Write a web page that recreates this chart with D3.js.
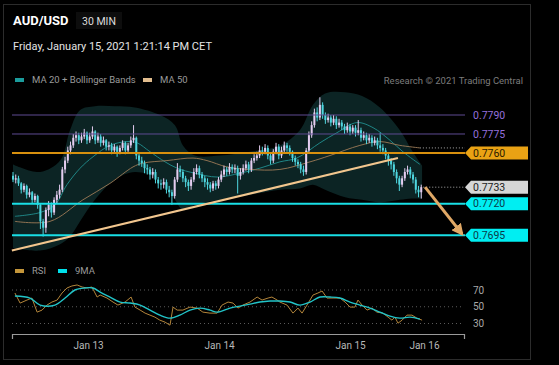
<!DOCTYPE html>
<html><head><meta charset="utf-8">
<script src="https://cdn.jsdelivr.net/npm/d3@7"></script>
<style>
  body { margin: 0; background: #000; }
  svg { display: block; font-family: Roboto, "Liberation Sans", Arial, sans-serif; }
</style>
</head>
<body>
<svg id="chart" width="559" height="365"></svg>
<script>
"use strict";
// 30 min candles, AUD/USD
const opens = [
  .7742,.7739,.7740,.7736,.7731,.7734,.7727,.7729,.7723,.7726,
  .7719,.7706,.7701,.7715,.7719,.7713,.7723,.7727,.7731,.7747,
  .7754,.7762,.7766,.7772,.7774,.7770,.7773,.7776,.7770,.7773,
  .7777,.7770,.7773,.7768,.7770,.7765,.7766,.7762,.7765,.7761,
  .7764,.7768,.7762,.7766,.7770,.7772,.7758,.7754,.7752,.7748,
  .7747,.7743,.7745,.7739,.7736,.7735,.7737,.7731,.7729,.7726,
  .7739,.7747,.7745,.7740,.7737,.7734,.7739,.7745,.7748,.7743,
  .7740,.7737,.7735,.7732,.7736,.7734,.7739,.7743,.7747,.7745,
  .7749,.7747,.7748,.7742,.7745,.7748,.7751,.7747,.7754,.7756,
  .7758,.7762,.7761,.7764,.7758,.7754,.7761,.7765,.7758,.7762,
  .7766,.7764,.7761,.7756,.7753,.7751,.7747,.7745,.7762,.7774,
  .7782,.7792,.7788,.7798,.7790,.7786,.7788,.7784,.7787,.7782,
  .7784,.7781,.7778,.7781,.7777,.7780,.7776,.7778,.7772,.7774,
  .7770,.7772,.7768,.7770,.7766,.7764,.7762,.7758,.7754,.7751,
  .7745,.7740,.7735,.7740,.7745,.7747,.7743,.7739,.7731,.7729];
const highs = [
  .7745,.7743,.7742,.7737,.7736,.7735,.7732,.7730,.7728,.7727,
  .7720,.7708,.7717,.7722,.7721,.7725,.7730,.7735,.7749,.7757,
  .7765,.7769,.7775,.7777,.7776,.7776,.7779,.7777,.7776,.7781,
  .7778,.7776,.7775,.7773,.7771,.7769,.7768,.7767,.7766,.7766,
  .7770,.7769,.7768,.7773,.7782,.7773,.7760,.7757,.7754,.7751,
  .7749,.7748,.7747,.7741,.7739,.7740,.7739,.7734,.7731,.7741,
  .7752,.7750,.7747,.7742,.7739,.7741,.7748,.7751,.7750,.7745,
  .7742,.7740,.7737,.7738,.7738,.7741,.7746,.7750,.7749,.7752,
  .7751,.7751,.7750,.7748,.7751,.7754,.7753,.7756,.7759,.7761,
  .7766,.7765,.7767,.7766,.7760,.7763,.7768,.7767,.7765,.7769,
  .7768,.7766,.7762,.7758,.7755,.7753,.7750,.7764,.7777,.7785,
  .7795,.7796,.7804,.7800,.7792,.7791,.7790,.7790,.7789,.7787,
  .7786,.7783,.7784,.7783,.7782,.7782,.7786,.7780,.7777,.7776,
  .7775,.7774,.7773,.7772,.7776,.7767,.7764,.7760,.7756,.7753,
  .7747,.7742,.7742,.7748,.7750,.7749,.7745,.7741,.7734,.7735];
const lows = [
  .7737,.7736,.7734,.7728,.7729,.7724,.7725,.7720,.7721,.7716,
  .7700,.7694,.7697,.7710,.7709,.7711,.7720,.7724,.7729,.7744,
  .7752,.7759,.7764,.7769,.7767,.7768,.7771,.7767,.7768,.7771,
  .7767,.7768,.7765,.7766,.7762,.7762,.7759,.7760,.7757,.7759,
  .7762,.7759,.7760,.7764,.7768,.7755,.7750,.7749,.7744,.7743,
  .7739,.7740,.7736,.7732,.7731,.7732,.7728,.7725,.7719,.7724,
  .7737,.7741,.7737,.7733,.7730,.7731,.7737,.7743,.7740,.7737,
  .7733,.7731,.7729,.7730,.7731,.7732,.7737,.7741,.7742,.7743,
  .7744,.7744,.7728,.7739,.7743,.7746,.7744,.7745,.7752,.7754,
  .7756,.7758,.7759,.7755,.7751,.7752,.7759,.7755,.7756,.7760,
  .7761,.7758,.7753,.7750,.7748,.7744,.7742,.7743,.7760,.7772,
  .7780,.7785,.7786,.7787,.7783,.7784,.7781,.7782,.7779,.7780,
  .7778,.7775,.7776,.7774,.7775,.7773,.7774,.7769,.7770,.7767,
  .7768,.7765,.7766,.7763,.7761,.7759,.7755,.7750,.7747,.7742,
  .7736,.7730,.7733,.7738,.7743,.7740,.7736,.7728,.7725,.7724];
const closes = [
  .7739,.7740,.7736,.7731,.7734,.7727,.7729,.7723,.7726,.7719,
  .7706,.7701,.7715,.7719,.7713,.7723,.7727,.7731,.7747,.7754,
  .7762,.7766,.7772,.7774,.7770,.7773,.7776,.7770,.7773,.7777,
  .7770,.7773,.7768,.7770,.7765,.7766,.7762,.7765,.7761,.7764,
  .7768,.7762,.7766,.7770,.7772,.7758,.7754,.7752,.7748,.7747,
  .7743,.7745,.7739,.7736,.7735,.7737,.7731,.7729,.7726,.7739,
  .7747,.7745,.7740,.7737,.7734,.7739,.7745,.7748,.7743,.7740,
  .7737,.7735,.7732,.7736,.7734,.7739,.7743,.7747,.7745,.7749,
  .7747,.7748,.7742,.7745,.7748,.7751,.7747,.7754,.7756,.7758,
  .7762,.7761,.7764,.7758,.7754,.7761,.7765,.7758,.7762,.7766,
  .7764,.7761,.7756,.7753,.7751,.7747,.7745,.7762,.7774,.7782,
  .7792,.7788,.7798,.7790,.7786,.7788,.7784,.7787,.7782,.7784,
  .7781,.7778,.7781,.7777,.7780,.7776,.7778,.7772,.7774,.7770,
  .7772,.7768,.7770,.7766,.7764,.7762,.7758,.7754,.7751,.7745,
  .7740,.7735,.7740,.7745,.7747,.7743,.7739,.7731,.7729,.7733];

// indicators as [candle index, value]
const ma20 = [[0.7,.7710],[9.9,.7713],[15.3,.7719],[19.7,.7735],[24.5,.7748],[29.2,.7757],
  [35.4,.7766],[41.6,.7769],[45.3,.7768],[50,.7761],[55.5,.7753],[59.9,.7748],[66.4,.7744],
  [74.5,.7741],[82.8,.7744],[90.1,.7748],[97.4,.7753],[103.6,.7756],[112,.7768],[118.2,.7776],
  [125.5,.7784],[131.4,.7780],[137.6,.7770],[142.3,.7761],[148.5,.7751]];
const ma50 = [[0.7,.7706],[13.5,.7706],[25.5,.7723],[35.4,.7736],[43.8,.7749],[47.4,.7752],
  [56.2,.7754],[65.7,.7756],[70.8,.7754],[78.1,.7749],[86.5,.7747],[97.4,.7747],[108.4,.7753],
  [115.7,.7758],[126.6,.7766],[133.9,.7769],[141.2,.7766],[148.5,.7764]];
const bbUpper = [[0,.7751],[9.9,.7745],[17.2,.7754],[20.8,.7778],[24.5,.7794],[29.9,.7797],
  [37.2,.7797],[44.5,.7796],[53.6,.7790],[59.1,.7782],[62,.7766],[66.4,.7758],[75.5,.7758],
  [86.5,.7761],[97.4,.7766],[104.7,.7778],[109.5,.7798],[113.9,.7807],[121.2,.7808],
  [127.4,.7805],[133.9,.7796],[141.2,.7778],[145.6,.7762],[149.3,.7750]];
const bbLower = [[0,.7685],[9.9,.7683],[17.2,.7688],[22.6,.7694],[28.1,.7706],[33.6,.7723],
  [39,.7739],[44.5,.7745],[50,.7739],[55.5,.7723],[60.9,.7715],[68.2,.7719],[75.5,.7723],
  [82.8,.7727],[90.1,.7731],[97.4,.7732],[104.7,.7735],[110.2,.7731],[115.7,.7725],
  [123,.7723],[130.3,.7721],[137.6,.7723],[144.9,.7724],[149.3,.7724]];

const rsi = [[0.7,66.4],[2.6,54.4],[5.1,58],[6.9,60.4],[8.8,43.6],[10.6,46],[12.4,52],[14.2,55.6],
  [16.1,58],[17.9,66.4],[19.7,72.4],[21.5,74.8],[23.4,76],[25.2,73.6],[27,72.4],[28.8,73.6],
  [30.7,61.6],[31.8,64],[34.3,60.4],[36.5,55.6],[38.3,52],[40.9,55.6],[43.1,61.6],[44.5,49.6],
  [46.4,46],[48.2,42.4],[50,40],[51.8,37.6],[53.6,34],[55.5,31.6],[57.3,28],[58.4,49.6],
  [59.9,46],[62,46],[64.6,49.6],[67.2,48.4],[69.3,43.6],[71.9,42.4],[74.5,42.4],[76.3,52],
  [78.5,55.6],[80.3,54.4],[82.1,48.4],[83.9,52],[86.5,55.6],[89.1,61.6],[90.9,58],[93.1,60.4],
  [94.5,61.6],[96.4,58],[97.4,55.6],[100,52],[102.2,42.4],[104,48.4],[105.5,42.4],[107.3,52],
  [109.5,64],[111.3,66.4],[112.8,68.8],[114.6,60.4],[116.8,60.4],[119.3,60.4],[121.2,55.6],
  [123,49.6],[124.8,49.6],[125.9,58],[127.4,52],[129.2,46],[131,48.4],[132.8,43.6],[135,42.4],
  [136.9,37.6],[138.3,34],[139.4,37.6],[140.5,30.4],[142,34],[143.8,40],[145.6,40],[147.4,36.4],
  [149.3,34]];
const rsiMa9 = [[0.7,62.8],[6.2,60.4],[9.9,52],[15.3,52],[19,60.4],[22.6,70],[26.3,72.4],
  [29.2,72.4],[31.8,67.6],[35.4,61.6],[39.1,55.6],[42.7,54.4],[46.4,52],[50,46],[53.6,40],
  [57.3,36.4],[60.9,40],[64.6,46],[68.2,48.4],[71.9,46],[74.5,43.6],[79.2,48.4],[82.8,50.8],
  [86.5,53.2],[90.1,55.6],[93.8,56.8],[97.4,56.8],[101.1,55.6],[104.7,52],[108.4,55.6],
  [112,61.6],[115.7,61.6],[119.3,60.4],[123,55.6],[126.6,52],[130.3,48.4],[133.9,43.6],
  [137.6,38.8],[141.2,36.4],[144.9,37.6],[148.5,35.2]];
const rsiLevels = [70, 50, 30];

// levels
const levels = [0.7790, 0.7775, 0.7760, 0.7720, 0.7695];
const levelKind = ["res", "res", "pivot", "sup", "sup"];
const lastPrice = 0.7733;
const trend = [[-0.4, 0.7683], [140.5, 0.7756]];
const arrowPath = [[150.4, 0.7733], [163.9, 0.7696]];

const tickAt = [27.4, 75.2, 123, 150];
const tickLabels = ["Jan 13", "Jan 14", "Jan 15", "Jan 16"];

const svg = d3.select("#chart");
svg.append("rect").attr("width", 559).attr("height", 365).attr("fill", "#000");
svg.append("rect").attr("x", 3.5).attr("y", 4.5).attr("width", 527).attr("height", 355)
  .attr("fill", "none").attr("stroke", "#2c2c2c");

// header
svg.append("text").attr("x", 13).attr("y", 25).attr("fill", "#fff")
  .style("font-size", "13px").style("font-weight", "bold").text("AUD/USD");
svg.append("rect").attr("x", 76).attr("y", 12).attr("width", 46).attr("height", 17).attr("fill", "#0d0d0d");
svg.append("text").attr("x", 82).attr("y", 25).attr("fill", "#ddd")
  .style("font-size", "10.5px").text("30 MIN");
svg.append("text").attr("x", 13).attr("y", 50).attr("fill", "#e4e4e4")
  .style("font-size", "11px").text("Friday, January 15, 2021 1:21:14 PM CET");

function legend(x, y, color, label) {
  svg.append("rect").attr("x", x).attr("y", y - 5).attr("width", 9).attr("height", 4).attr("fill", color);
  svg.append("text").attr("x", x + 17).attr("y", y).attr("fill", "#9a9a9a")
    .style("font-size", "9.5px").text(label);
}
legend(15, 83, "#1b9c9c", "MA 20 + Bollinger Bands");
legend(143, 83, "#e2bd8e", "MA 50");
svg.append("text").attr("x", 523).attr("y", 84).attr("text-anchor", "end").attr("fill", "#7c7c7c")
  .style("font-size", "9.5px").text("Research \u00a9 2021 Trading Central");

// scales
const x = d3.scaleLinear().domain([0, 150]).range([13, 424]);
const y = d3.scaleLinear().domain([0.7695, 0.7790]).range([235.3, 115]);
const ry = d3.scaleLinear().domain([30, 70]).range([323.5, 290]);

// bollinger band + moving averages
svg.append("path").datum(d3.range(bbUpper.length))
  .attr("fill", "#0c2424")
  .attr("d", d3.area().curve(d3.curveCatmullRom)
    .x(k => x(bbUpper[k][0])).y0(k => y(bbLower[Math.min(k, bbLower.length - 1)][1]))
    .y1(k => y(bbUpper[k][1])));
const line = d3.line().curve(d3.curveCatmullRom).x(d => x(d[0])).y(d => y(d[1]));
svg.append("path").attr("d", line(ma20)).attr("fill", "none").attr("stroke", "#1f8585").attr("stroke-width", 1);
svg.append("path").attr("d", line(ma50)).attr("fill", "none").attr("stroke", "#8f7252").attr("stroke-width", 1);

// candles
const candles = svg.append("g");
closes.forEach((c, i) => {
  const up = c >= opens[i];
  const col = up ? "#e4cdf0" : "#4fd6df";
  candles.append("line").attr("x1", x(i)).attr("x2", x(i))
    .attr("y1", y(highs[i])).attr("y2", y(lows[i])).attr("stroke", col).attr("stroke-width", 1);
  const top = y(Math.max(c, opens[i])), bot = y(Math.min(c, opens[i]));
  candles.append("rect").attr("x", x(i) - 1).attr("width", 2)
    .attr("y", top).attr("height", Math.max(1, bot - top)).attr("fill", col);
});

// level lines
const levelStyle = {
  res: { stroke: "#5e4a92", width: 1 },
  pivot: { stroke: "#d8900e", width: 2 },
  sup: { stroke: "#19dfe6", width: 2 }
};
levels.forEach((lv, k) => {
  const st = levelStyle[levelKind[k]];
  svg.append("line").attr("x1", 12).attr("x2", 465).attr("y1", y(lv)).attr("y2", y(lv))
    .attr("stroke", st.stroke).attr("stroke-width", st.width);
});

// trendline
svg.append("line").attr("x1", x(trend[0][0])).attr("y1", y(trend[0][1]))
  .attr("x2", x(trend[1][0])).attr("y2", y(trend[1][1]))
  .attr("stroke", "#f2c68e").attr("stroke-width", 2.2);

// dotted guides to labels
const lastIdx = closes.length - 1;
svg.append("line").attr("x1", x(ma50[ma50.length - 1][0])).attr("x2", 465)
  .attr("y1", y(ma50[ma50.length - 1][1])).attr("y2", y(ma50[ma50.length - 1][1]))
  .attr("stroke", "#aaa").attr("stroke-dasharray", "1,2");
svg.append("line").attr("x1", x(lastIdx) + 2).attr("x2", 465)
  .attr("y1", y(lastPrice)).attr("y2", y(lastPrice))
  .attr("stroke", "#aaa").attr("stroke-dasharray", "1,2");

// arrow
svg.append("defs").append("marker").attr("id", "head")
  .attr("viewBox", "0 0 10 10").attr("refX", 8).attr("refY", 5)
  .attr("markerWidth", 4).attr("markerHeight", 4).attr("orient", "auto")
  .append("path").attr("d", "M0,0L10,5L0,10Z").attr("fill", "#e0a866");
svg.append("line").attr("x1", x(arrowPath[0][0])).attr("y1", y(arrowPath[0][1]))
  .attr("x2", x(arrowPath[1][0])).attr("y2", y(arrowPath[1][1]))
  .attr("stroke", "#e0a866").attr("stroke-width", 3).attr("marker-end", "url(#head)");

// price labels
function tag(price, fill, textColor) {
  const cy = y(price);
  svg.append("path")
    .attr("d", `M465,${cy}L471,${cy - 6.5}L528,${cy - 6.5}L528,${cy + 6.5}L471,${cy + 6.5}Z`)
    .attr("fill", fill);
  svg.append("text").attr("x", 473).attr("y", cy + 3.6).attr("fill", textColor)
    .style("font-size", "10.5px").text(price.toFixed(4));
}
levels.forEach((lv, k) => {
  if (levelKind[k] === "res") {
    svg.append("text").attr("x", 473).attr("y", y(lv) + 3.6).attr("fill", "#9470dc")
      .style("font-size", "10.5px").text(lv.toFixed(4));
  } else if (levelKind[k] === "pivot") {
    tag(lv, "#e9a214", "#2a1a00");
  } else {
    tag(lv, "#00eef2", "#0b3a48");
  }
});
tag(lastPrice, "#d6d6d6", "#222");

// RSI panel
legend(15, 274, "#c4963a", "RSI");
legend(58, 274, "#00e0ea", "9MA");
rsiLevels.forEach(v => {
  svg.append("line").attr("x1", 12).attr("x2", 464).attr("y1", ry(v)).attr("y2", ry(v))
    .attr("stroke", "#5a5a5a").attr("stroke-dasharray", "1,3");
  svg.append("text").attr("x", 473).attr("y", ry(v) + 3.5).attr("fill", "#a8a8a8")
    .style("font-size", "10px").text(v);
});
const rline = d3.line().curve(d3.curveLinear).x(d => x(d[0])).y(d => ry(d[1]));
svg.append("path").attr("d", rline(rsi)).attr("fill", "none").attr("stroke", "#b3853a").attr("stroke-width", 1);
svg.append("path").attr("d", d3.line().curve(d3.curveCatmullRom).x(d => x(d[0])).y(d => ry(d[1]))(rsiMa9))
  .attr("fill", "none").attr("stroke", "#22c4c8").attr("stroke-width", 1.4);

// x axis
const xa = d3.scaleLinear().domain([x.invert(12), x.invert(464)]).range([12, 464]);
const axis = svg.append("g").attr("transform", "translate(0,334)")
  .call(d3.axisBottom(xa).tickValues(tickAt).tickSizeInner(0).tickSizeOuter(5).tickPadding(8)
    .tickFormat((d, k) => tickLabels[k]));
axis.select(".domain").attr("stroke", "#9a9a9a").attr("stroke-width", 1.2);
axis.selectAll("text").attr("fill", "#b8b8b8").style("font-size", "10px")
  .style("font-family", "Roboto, 'Liberation Sans', Arial, sans-serif");
</script>
</body>
</html>
